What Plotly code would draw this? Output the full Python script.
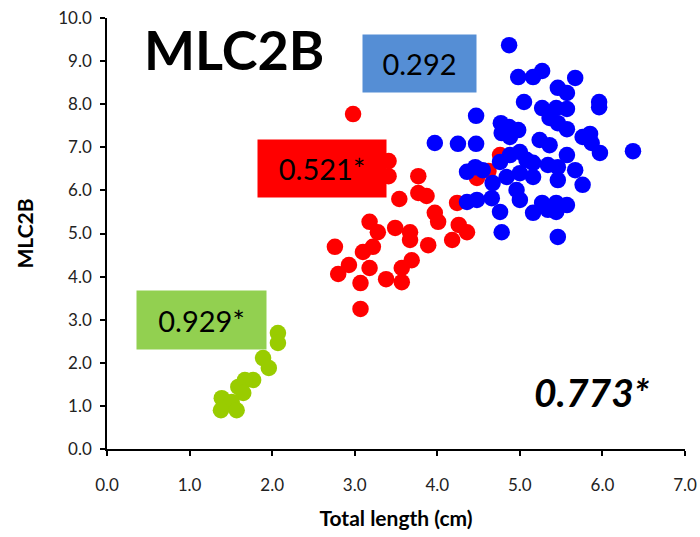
import plotly.graph_objects as go

# Green group (small fish)
green_x = [2.07, 2.07, 1.89, 1.96, 1.77, 1.67, 1.59, 1.65, 1.39, 1.51, 1.38, 1.57]
green_y = [2.69, 2.46, 2.11, 1.88, 1.60, 1.60, 1.44, 1.30, 1.18, 1.09, 0.90, 0.90]

# Red group
red_x = [2.98, 3.41, 3.41, 3.77, 3.54, 3.77, 3.87, 3.97, 4.01, 4.24, 4.26, 4.36, 4.18,
         3.89, 3.67, 3.67, 3.49, 3.28, 3.18, 3.22, 3.10, 2.76, 2.93, 2.80, 3.18, 3.07,
         3.38, 3.69, 3.57, 3.57, 3.07, 4.76, 4.48, 4.62]
red_y = [7.77, 6.68, 6.33, 6.33, 5.80, 5.94, 5.87, 5.48, 5.27, 5.71, 5.20, 5.03, 4.85,
         4.73, 5.03, 4.85, 5.13, 5.03, 5.27, 4.69, 4.57, 4.69, 4.27, 4.06, 4.20, 3.85,
         3.94, 4.38, 4.20, 3.87, 3.25, 6.82, 6.29, 6.45]

# Blue group
blue_x = [4.87, 4.98, 5.16, 5.27, 5.67, 5.46, 5.57, 5.05, 5.27, 5.44, 5.57, 5.96, 5.96,
          5.36, 5.46, 5.57, 4.47, 4.77, 4.87, 4.98, 4.78, 4.88, 3.97, 4.25, 4.47, 5.24,
          5.36, 5.76, 5.85, 5.87, 5.97, 6.37, 4.88, 4.76, 5.00, 5.08, 5.16, 5.57, 5.34,
          5.46, 5.67, 4.36, 4.46, 4.55, 4.67, 4.84, 5.00, 5.16, 5.46, 5.76, 4.96, 5.00,
          4.36, 4.48, 4.66, 4.76, 5.16, 5.27, 5.44, 5.57, 5.44, 5.34, 4.78, 5.46]
blue_y = [9.37, 8.63, 8.63, 8.77, 8.61, 8.38, 8.26, 8.05, 7.91, 7.91, 7.89, 8.05, 7.93,
          7.68, 7.56, 7.42, 7.73, 7.56, 7.47, 7.40, 7.33, 7.24, 7.10, 7.08, 7.08, 7.17,
          7.05, 7.24, 7.31, 7.10, 6.87, 6.91, 6.82, 6.66, 6.89, 6.71, 6.64, 6.82, 6.59,
          6.54, 6.47, 6.43, 6.54, 6.47, 6.17, 6.31, 6.40, 6.31, 6.24, 6.13, 6.01, 5.78,
          5.73, 5.78, 5.82, 5.50, 5.48, 5.71, 5.71, 5.66, 5.50, 5.55, 5.03, 4.92]

x_ticks = [0, 1, 2, 3, 4, 5, 6, 7]
y_ticks = [0, 1, 2, 3, 4, 5, 6, 7, 8, 9, 10]

FONT = "Lato"

fig = go.Figure()
for xs, ys, col in [(green_x, green_y, "#99CC00"), (red_x, red_y, "#FF0000"), (blue_x, blue_y, "#0000FF")]:
    fig.add_trace(go.Scatter(x=xs, y=ys, mode="markers",
                             marker=dict(size=16.5, color=col, line=dict(width=0)),
                             showlegend=False, hoverinfo="skip", cliponaxis=False))

def box(x, y, text, bg, w, h):
    fig.add_annotation(x=x, y=y, xref="x", yref="y", text=text, showarrow=False,
                       bgcolor=bg, width=w, height=h, borderpad=0,
                       font=dict(family=FONT, size=29, color="black"))

box(3.78, 8.94, "0.292", "#558ED5", 113, 57)
box(2.60, 6.51, "0.521*", "#FF0000", 128, 57)
box(1.14, 2.99, "0.929*", "#92D050", 129, 58)

fig.add_annotation(x=1.54, y=9.26, xref="x", yref="y", text="<b>MLC2B</b>", showarrow=False,
                   font=dict(family=FONT, size=54, color="black"))
fig.add_annotation(x=5.87, y=1.32, xref="x", yref="y", text="<b><i>0.773*</i></b>", showarrow=False,
                   font=dict(family=FONT, size=39, color="black"))

axis_common = dict(showgrid=False, zeroline=False, showline=True, linecolor="black", linewidth=1.5,
                   ticks="outside", ticklen=5, tickcolor="black", tickwidth=1.5, automargin=False,
                   tickformat=".1f", tickfont=dict(family=FONT, size=17, color="#222"))

fig.update_xaxes(range=[0, 7], tickvals=x_ticks,
                 title=dict(text="<b>Total length (cm)</b>", font=dict(family=FONT, size=21, color="black"), standoff=17),
                 ticklabelstandoff=15, **axis_common)
fig.update_yaxes(range=[0, 10], tickvals=y_ticks,
                 title=dict(text="<b>MLC2B</b>", font=dict(family=FONT, size=21, color="black"), standoff=19),
                 ticklabelstandoff=5, **axis_common)

fig.update_layout(width=700, height=537, margin=dict(l=107, r=15, t=18, b=88, autoexpand=False),
                  plot_bgcolor="white", paper_bgcolor="white")

fig.write_html("out.html")
